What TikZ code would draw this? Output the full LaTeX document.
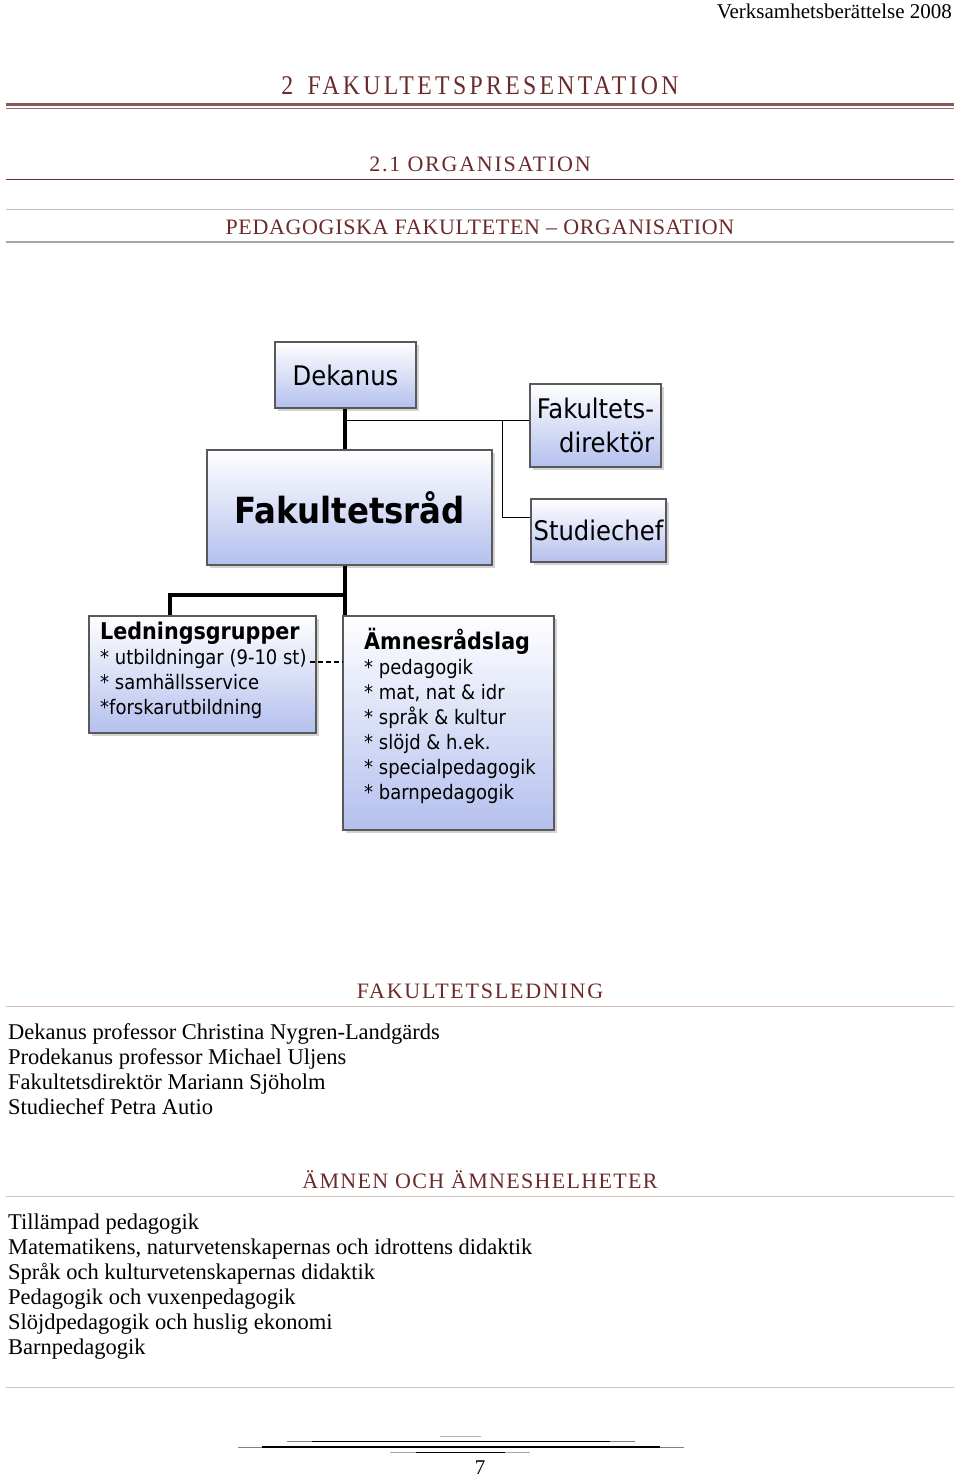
\documentclass[tikz,border=0pt]{standalone}
\usepackage{fontspec}
\setmainfont{Liberation Serif}
\newfontfamily\chartfont{DejaVu Sans Condensed}
\usetikzlibrary{shadows}
\definecolor{hred}{HTML}{6B2B2B}
\definecolor{boxblue}{HTML}{B4C0EE}
\definecolor{pinkline}{HTML}{D8C0C0}
\begin{document}
\begin{tikzpicture}[x=1pt,y=-1pt,
  orgbox/.style={draw=gray!70!black,line width=1.2pt,top color=white,bottom color=boxblue,
    drop shadow={shadow xshift=3pt,shadow yshift=-3pt,opacity=0.35},inner sep=0pt},
  head/.style={text=hred,font=\fontsize{22}{24}\selectfont,anchor=base},
  body/.style={anchor=base west,font=\fontsize{22.5}{24}\selectfont,inner sep=0pt},
  thick line/.style={line width=4pt},
  thin line/.style={line width=1pt}]
\useasboundingbox (0,0) rectangle (960,1476);
\node[anchor=base east,font=\fontsize{21}{24}\selectfont,inner sep=0pt] (hdr) at (952,18) {Verksamhetsberättelse 2008};
\node[head,font=\fontsize{27}{30}\selectfont] (t1) at (480,94) {\addfontfeature{LetterSpace=14}\scalebox{0.88}[1]{2\hspace{0.6em}FAKULTETSPRESENTATION}};
\draw[hred!80,line width=3pt] (6,104)--(954,104);
\draw[hred!70,line width=1pt] (6,108.5)--(954,108.5);
\node[head] (t2) at (480,171) {\addfontfeature{LetterSpace=8}\scalebox{1.0}[1]{2.1 ORGANISATION}};
\draw[hred,line width=1pt] (6,179)--(954,179);
\draw[gray!50,line width=1pt] (6,209)--(954,209);
\node[head] (t3) at (480,234) {\addfontfeature{LetterSpace=3}\scalebox{1.0}[1]{PEDAGOGISKA FAKULTETEN – ORGANISATION}};
\draw[gray!70,line width=1.2pt] (6,242)--(954,242);
% chart
\node[orgbox,minimum width=141pt,minimum height=66pt] (dek) at (345.5,375) {\chartfont\fontsize{27}{30}\selectfont Dekanus};
\node[orgbox,minimum width=131pt,minimum height=83pt,align=right,font=\chartfont\fontsize{27}{34}\selectfont] (fdir) at (595.5,425.5) {Fakultets-\\direktör};
\node[orgbox,minimum width=285pt,minimum height=115pt] (fr) at (349.5,507.5) {\chartfont\bfseries\fontsize{36}{40}\selectfont Fakultetsråd};
\node[orgbox,minimum width=135pt,minimum height=63pt] (sc) at (598.5,530.5) {\chartfont\fontsize{27}{30}\selectfont Studiechef};
\node[orgbox,minimum width=227pt,minimum height=117pt] (led) at (202.5,674.5) {};
\node[anchor=north west,align=left,inner sep=0pt,font=\chartfont\fontsize{20}{25}\selectfont] (ledt) at (100,622)
  {{\bfseries\fontsize{23}{25}\selectfont Ledningsgrupper}\\* utbildningar (9-10 st)\\* samhällsservice\\*forskarutbildning};
\node[orgbox,minimum width=211pt,minimum height=214pt] (amn) at (448.5,723) {};
\node[anchor=north west,align=left,inner sep=0pt,font=\chartfont\fontsize{20}{25}\selectfont] (amnt) at (364,628)
  {{\bfseries\fontsize{23}{25}\selectfont Ämnesrådslag}\\* pedagogik\\* mat, nat \& idr\\* språk \& kultur\\* slöjd \& h.ek.\\* specialpedagogik\\* barnpedagogik};
\coordinate (j1) at (345,595);
\coordinate (j2) at (170,595);
\coordinate (ja) at (345,420);
\coordinate (jb) at (502,420);
\coordinate (jc) at (502,517);
\draw[thick line] (dek.south -| ja) -- (fr.north -| ja);
\draw[thick line] (fr.south -| j1) -- (amn.north -| j1);
\draw[thick line] (j1) -- (j2) -- (led.north -| j2);
\draw[thin line] (ja) -- (fdir.west |- ja);
\draw[thin line] (jb) -- (jc) -- (sc.west |- jc);
\draw[line width=2.5pt,dash pattern=on 5pt off 3pt] (310,662) -- (amn.west |- 0,662);
% text sections
\node[head] (fl) at (480,998) {\addfontfeature{LetterSpace=8}FAKULTETSLEDNING};
\draw[pinkline,line width=1pt] (6,1006)--(954,1006);
\node[body] (l1) at (8,1039) {Dekanus professor Christina Nygren-Landgärds};
\node[body] (l2) at (8,1064) {Prodekanus professor Michael Uljens};
\node[body] (l3) at (8,1089) {Fakultetsdirektör Mariann Sjöholm};
\node[body] (l4) at (8,1114) {Studiechef Petra Autio};
\node[head] (am) at (480,1188) {\addfontfeature{LetterSpace=6}ÄMNEN OCH ÄMNESHELHETER};
\draw[pinkline,line width=1pt] (6,1196)--(954,1196);
\node[body] (m1) at (8,1229) {Tillämpad pedagogik};
\node[body] (m2) at (8,1254) {Matematikens, naturvetenskapernas och idrottens didaktik};
\node[body] (m3) at (8,1279) {Språk och kulturvetenskapernas didaktik};
\node[body] (m4) at (8,1304) {Pedagogik och vuxenpedagogik};
\node[body] (m5) at (8,1329) {Slöjdpedagogik och huslig ekonomi};
\node[body] (m6) at (8,1354) {Barnpedagogik};
\draw[pinkline,line width=1pt] (6,1387)--(954,1387);
% footer ornament
\draw[gray!60,line width=0.6pt] (440,1436)--(481,1436);
\draw[gray,line width=0.8pt] (287,1441)--(635,1441);
\draw[black,line width=0.8pt] (312,1441)--(610,1441);
\draw[gray,line width=0.6pt] (238,1447)--(684,1447);
\draw[black,line width=1.2pt] (262,1447)--(660,1447);
\draw[gray!70,line width=0.8pt] (390,1452)--(530,1452);
\draw[black,line width=0.8pt] (416,1452)--(505,1452);
\node[anchor=base,font=\fontsize{21}{24}\selectfont,inner sep=0pt] (pg) at (480,1474) {7};
\end{tikzpicture}
\end{document}
